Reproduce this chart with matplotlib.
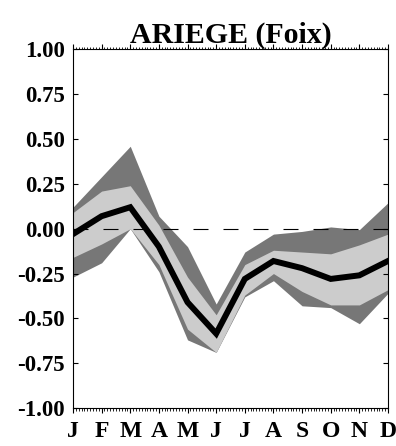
import numpy as np
import matplotlib
matplotlib.use("Agg")
import matplotlib.pyplot as plt
from matplotlib.ticker import MultipleLocator

plt.rcParams['font.family'] = ['Liberation Serif', 'DejaVu Serif']
plt.rcParams['font.weight'] = 'bold'
plt.rcParams['axes.unicode_minus'] = False

months = ['J', 'F', 'M', 'A', 'M', 'J', 'J', 'A', 'S', 'O', 'N', 'D']
mean = [-0.03, 0.07, 0.12, -0.10, -0.41, -0.585, -0.28, -0.18, -0.22, -0.28, -0.26, -0.18]
light_hi = [0.09, 0.21, 0.24, 0.02, -0.27, -0.48, -0.20, -0.12, -0.13, -0.14, -0.09, -0.03]
light_lo = [-0.16, -0.085, 0.0, -0.20, -0.56, -0.69, -0.37, -0.25, -0.35, -0.425, -0.425, -0.34]
dark_hi = [0.12, 0.29, 0.46, 0.07, -0.10, -0.42, -0.13, -0.03, -0.015, 0.01, -0.005, 0.145]
dark_lo = [-0.27, -0.19, 0.0, -0.24, -0.62, -0.69, -0.38, -0.29, -0.43, -0.44, -0.53, -0.36]

x = np.arange(len(months))

fig = plt.figure(figsize=(3.96, 4.46), dpi=100)
ax = fig.add_axes([0.1843, 0.0852, 0.7955, 0.8039])

ax.fill_between(x, dark_lo, dark_hi, color='#777777', lw=0)
ax.fill_between(x, light_lo, light_hi, color='#cccccc', lw=0)
ax.plot([x[0], x[-1]], [0, 0], color='black', lw=0.8, dashes=(13.5, 13.5))
ax.plot(x, mean, color='black', lw=4.3, solid_joinstyle='miter')

ax.set_xlim(0, 11)
ax.set_ylim(-1, 1)
ax.set_xticks(x)
ax.set_xticklabels(months)
ax.xaxis.set_minor_locator(MultipleLocator(0.1))
ax.set_yticks(np.arange(-1, 1.01, 0.25))
ax.set_yticklabels(['%.2f' % v for v in np.arange(-1, 1.01, 0.25)])

ax.tick_params(axis='x', which='major', direction='out', top=True, bottom=True,
               length=3.5, width=0.8, pad=6, labelsize=17)
ax.tick_params(axis='x', which='minor', direction='out', top=True, bottom=True,
               length=1.8, width=0.6)
ax.tick_params(axis='y', direction='in', left=True, right=True,
               length=3.6, width=0.8, pad=6, labelsize=16.5)
for s in ax.spines.values():
    s.set_linewidth(0.8)

ax.set_title('ARIEGE (Foix)', fontsize=21.5, fontweight='bold', pad=5)

fig.savefig('out.png', dpi=100)
